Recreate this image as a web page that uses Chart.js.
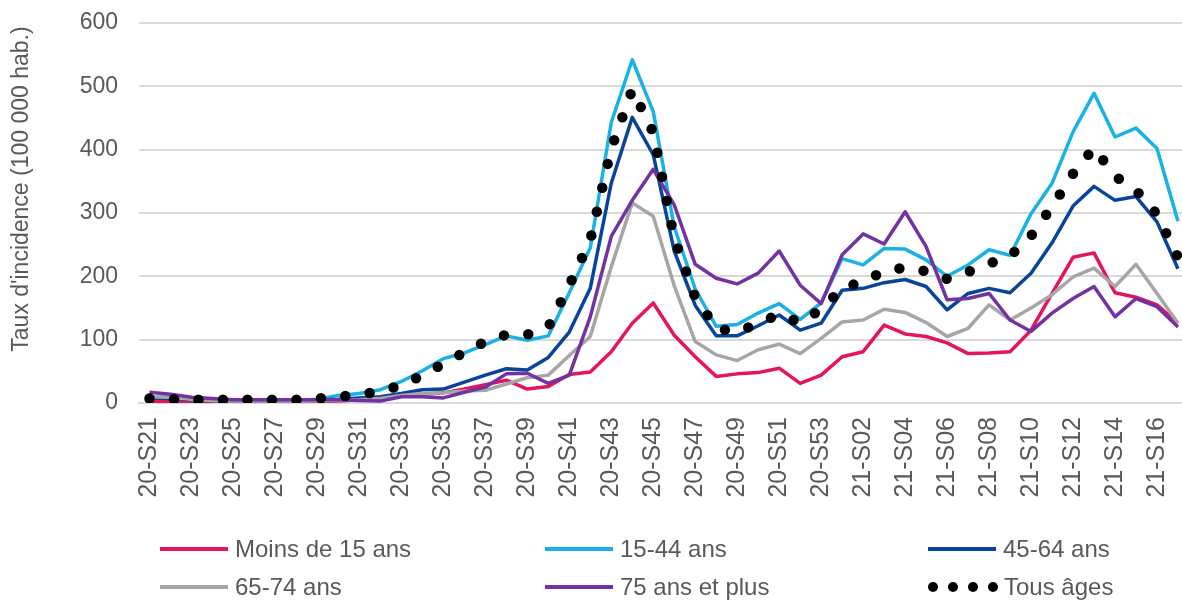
<!DOCTYPE html>
<html><head><meta charset="utf-8">
<script src="https://cdn.jsdelivr.net/npm/chart.js@4"></script>
<style>
html,body{margin:0;padding:0;background:#fff;overflow:hidden;width:1182px;height:601px;}
#wrap{position:absolute;left:0;top:0;width:1222px;height:601px;}
#legend{position:absolute;left:0;top:0;width:1182px;height:601px;pointer-events:none;font-family:"Liberation Sans",Arial,sans-serif;font-size:24px;color:#595959;}
.item{position:absolute;display:flex;align-items:center;height:30px;white-space:nowrap;}
.swatch{width:68px;height:4px;margin-right:7px;}
.dots{width:70px;height:10px;margin-right:6px;display:flex;justify-content:space-between;align-items:center;}
.dot{width:10px;height:10px;border-radius:50%;background:#000;}
</style></head><body>
<div id="wrap"><canvas id="c" width="1222" height="601"></canvas></div>
<div id="legend"></div>
<script>
const weeks = ['20-S21','20-S22','20-S23','20-S24','20-S25','20-S26','20-S27','20-S28','20-S29','20-S30',
  '20-S31','20-S32','20-S33','20-S34','20-S35','20-S36','20-S37','20-S38','20-S39','20-S40',
  '20-S41','20-S42','20-S43','20-S44','20-S45','20-S46','20-S47','20-S48','20-S49','20-S50',
  '20-S51','20-S52','20-S53','21-S01','21-S02','21-S03','21-S04','21-S05','21-S06','21-S07',
  '21-S08','21-S09','21-S10','21-S11','21-S12','21-S13','21-S14','21-S15','21-S16','21-S17'];

const moins15 = [3,2,1,1,1,1,1,1,2,3, 5,8,12,14,16,22,29,36,22,26, 45,49,81,126,158,107,73,42,46,48,
  55,31,44,73,81,123,109,105,95,78, 79,81,115,173,230,237,174,167,155,126];
const a15_44 = [9,9,5,4,4,4,4,4,6,12, 15,21,34,51,70,79,92,106,99,106, 174,245,443,542,460,278,180,121,124,142,
  157,132,158,228,218,244,243,226,200,218, 242,233,299,347,428,489,420,434,402,287];
const a45_64 = [8,7,5,4,4,4,4,4,5,6, 8,10,15,21,22,33,44,54,52,72, 112,181,347,451,392,240,154,106,106,122,
  139,115,126,178,181,190,195,184,147,173, 181,174,205,253,311,342,320,326,286,212];
const a65_74 = [10,9,6,4,3,3,3,3,3,4, 5,7,12,15,16,19,20,30,40,44, 75,105,215,316,295,185,97,76,67,84,
  93,78,102,128,131,148,143,127,105,118, 155,131,150,171,199,213,184,219,173,126];
const a75plus = [17,14,9,7,5,5,5,5,5,5, 4,3,10,10,8,17,25,46,47,31, 44,136,263,320,369,313,219,197,188,205,
  240,186,157,234,267,251,302,247,163,165, 173,131,113,142,165,184,136,165,152,120];
const tousAges = [7,6,5,5,5,5,5,5,7,10, 13,19,28,44,62,80,97,108,108,120, 186,257,402,495,427,260,167,118,112,126,
  140,127,148,181,192,208,214,208,196,207, 220,232,264,310,362,403,358,336,298,230];

const seriesNames = ['Moins de 15 ans','15-44 ans','45-64 ans','65-74 ans','75 ans et plus','Tous âges'];
const seriesColors = ['#E5145C','#1AB1E6','#07449B','#A6A6A6','#7331A1','#000000'];
const yTicks = [0,100,200,300,400,500,600];
const yTitle = "Taux d'incidence (100 000 hab.)";

const FONT = '"Liberation Sans", Arial, sans-serif';
const seriesData = [moins15, a15_44, a45_64, a65_74, a75plus, tousAges];

const datasets = seriesData.map((d, k) => {
  const isAll = k === 5;
  return {
    label: seriesNames[k],
    data: d,
    borderColor: seriesColors[k],
    backgroundColor: seriesColors[k],
    borderWidth: isAll ? 10.5 : 3.5,
    borderDash: isAll ? [0, 24.5] : [],
    borderCapStyle: isAll ? 'round' : 'butt',
    borderJoinStyle: 'round',
    pointRadius: 0,
    tension: 0,
    fill: false,
    order: 6 - k
  };
});

const titlePlugin = {
  id: 'ytitle',
  afterDraw(chart) {
    const ctx = chart.ctx;
    ctx.save();
    ctx.translate(22, 189);
    ctx.rotate(-Math.PI / 2);
    ctx.font = '23px ' + FONT;
    ctx.fillStyle = '#595959';
    ctx.textAlign = 'center';
    ctx.textBaseline = 'middle';
    ctx.fillText(yTitle, 0, 0);
    ctx.restore();
  }
};

new Chart(document.getElementById('c'), {
  type: 'line',
  data: { labels: weeks, datasets },
  plugins: [titlePlugin],
  options: {
    responsive: false,
    animation: false,
    events: [],
    layout: { padding: { top: 23, right: 2, left: 0, bottom: 0 } },
    plugins: { legend: { display: false }, tooltip: { enabled: false } },
    scales: {
      x: {
        type: 'category',
        offset: true,
        grid: { display: false, drawTicks: false },
        border: { display: true, color: '#D9D9D9', width: 2 },
        ticks: {
          autoSkip: false,
          maxRotation: 90, minRotation: 90,
          padding: 14,
          color: '#595959',
          font: { family: FONT, size: 25 },
          callback: function(v, i) { return i % 2 === 0 ? weeks[i] : ''; }
        },
        afterFit: function(s) { s.height = 198; }
      },
      y: {
        min: 0, max: 600,
        afterBuildTicks: function(s) { s.ticks = yTicks.map(v => ({ value: v })); },
        grid: { color: '#D9D9D9', lineWidth: 2, drawTicks: false },
        border: { display: false },
        ticks: {
          padding: 21,
          color: '#595959',
          font: { family: FONT, size: 23 }
        },
        afterFit: function(s) { s.width = 139; s.paddingTop = 0; s.paddingBottom = 0; }
      }
    }
  }
});

// Legend (HTML, real text)
const legendPos = [
  [160, 549], [545, 549], [928, 549],
  [160, 587], [545, 587], [928, 587]
];
const leg = document.getElementById('legend');
seriesNames.forEach((name, k) => {
  const it = document.createElement('div');
  it.className = 'item';
  it.style.left = legendPos[k][0] + 'px';
  it.style.top = (legendPos[k][1] - 15) + 'px';
  let sw;
  if (k === 5) {
    sw = document.createElement('div');
    sw.className = 'dots';
    for (let j = 0; j < 4; j++) { const d = document.createElement('div'); d.className = 'dot'; sw.appendChild(d); }
  } else {
    sw = document.createElement('div');
    sw.className = 'swatch';
    sw.style.background = seriesColors[k];
  }
  const tx = document.createElement('span');
  tx.textContent = name;
  it.appendChild(sw);
  it.appendChild(tx);
  leg.appendChild(it);
});
</script>
</body></html>
